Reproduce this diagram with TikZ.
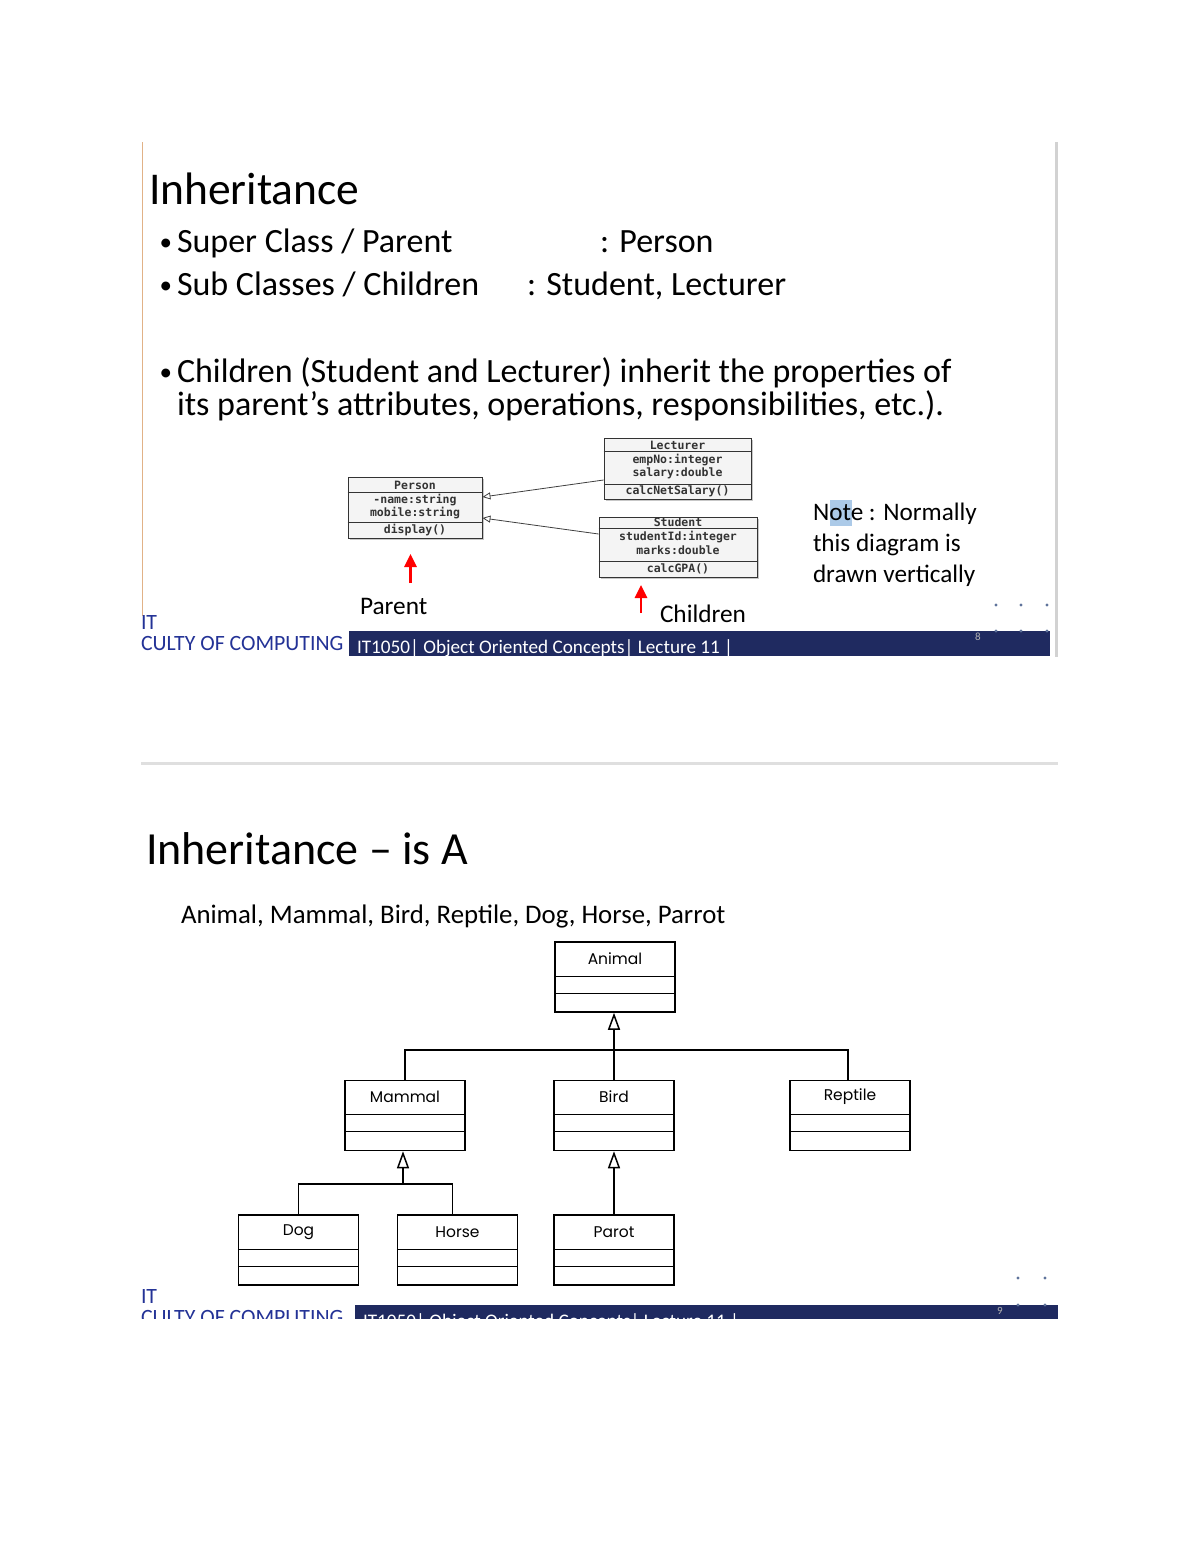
\documentclass[tikz,border=0pt]{standalone}
\usepackage{fontspec}
\setmainfont{Carlito}
\newfontfamily\umlfont{Poppins}
\newfontfamily\handfont{DejaVu Sans Mono}
\usetikzlibrary{arrows.meta,shadows}
\newcommand\fsz[1]{\fontsize{#1}{#1}\selectfont}
\definecolor{navy}{RGB}{31,42,96}
\definecolor{facblue}{RGB}{35,50,150}
\definecolor{slideorange}{RGB}{225,178,135}
\definecolor{hilite}{RGB}{172,202,232}
\definecolor{dotblue}{RGB}{95,115,155}
\tikzset{
  txt/.style={anchor=base west, inner sep=0pt, outer sep=0pt},
  bul/.style={anchor=base west, inner sep=0pt, outer sep=0pt, font=\fsz{25}},
  handbox/.style={draw=black!80, line width=0.9pt, fill=gray!9, inner sep=0pt,
     drop shadow={shadow xshift=2pt, shadow yshift=-2pt, fill=gray!55, opacity=0.8}},
  handtxt/.style={inner sep=0pt, font=\handfont\bfseries\fsz{11.5}, text=black!80},
  handgen/.style={draw=black!75, line width=0.8pt, -{Triangle[open,length=8pt,width=7pt]}},
  redarrow/.style={draw=red, line width=2.8pt, -{Triangle[length=13pt,width=12pt]}},
  umlbox/.style={draw=black, line width=1.5pt, minimum width=120pt, minimum height=70pt, inner sep=0pt},
  umlname/.style={inner sep=0pt, font=\umlfont\fsz{15.5}},
  conn/.style={draw=black, line width=1.5pt},
  gen/.style={draw=black, line width=1.5pt, -{Triangle[open,length=17pt,width=12pt,line width=1.5pt]}},
  fdot/.style={circle, fill=dotblue, inner sep=0pt, minimum size=3.2pt},
}
\begin{document}
\begin{tikzpicture}[x=1pt,y=-1pt]
\useasboundingbox (0,0) rectangle (1200,1553);
\fill[white] (0,0) rectangle (1200,1553);

% ---------------- top slide ----------------
\draw[slideorange, line width=1.5pt] (142.5,142) -- (142.5,616);
\draw[gray!35, line width=3pt] (1056.5,142) -- (1056.5,657);

\node[txt, font=\fsz{45.5}] (t1) at (149,204) {Inheritance};
\node[bul] (b1) at (159.5,250) {•};
\node[txt, font=\fsz{34}] (s1) at (177,252) {Super Class / Parent};
\node[txt, font=\fsz{34}] (s1r) at (600,252) {: Person};
\node[bul] (b2) at (159.5,293) {•};
\node[txt, font=\fsz{34}] (s2) at (177,295) {Sub Classes / Children};
\node[txt, font=\fsz{34}] (s2r) at (527,295) {: Student, Lecturer};
\node[bul] (b3) at (159.5,380) {•};
\node[txt, font=\fsz{34}] (s3) at (177,382) {Children (Student and Lecturer) inherit the properties of};
\node[txt, font=\fsz{34}] (s3b) at (177,415) {its parent’s attributes, operations, responsibilities, etc.).};

% hand-drawn class boxes
\node[handbox, minimum width=134pt, minimum height=61pt] (person) at (415,507.5) {};
\draw[black!80, line width=0.9pt] ([yshift=-15.5pt]person.north west) -- ([yshift=-15.5pt]person.north east);
\draw[black!80, line width=0.9pt] ([yshift=-46pt]person.north west) -- ([yshift=-46pt]person.north east);
\node[handtxt] (p1) at (415,485) {Person};
\node[handtxt] (p2) at (415,500) {-name:string};
\node[handtxt] (p3) at (415,513) {mobile:string};
\node[handtxt] (p4) at (415,530) {display()};

\node[handbox, minimum width=147pt, minimum height=61pt] (lect) at (677.5,468.5) {};
\draw[black!80, line width=0.9pt] ([yshift=-13.5pt]lect.north west) -- ([yshift=-13.5pt]lect.north east);
\draw[black!80, line width=0.9pt] ([yshift=-47pt]lect.north west) -- ([yshift=-47pt]lect.north east);
\node[handtxt] (l1) at (677.5,445) {Lecturer};
\node[handtxt] (l2) at (677.5,460) {empNo:integer};
\node[handtxt] (l3) at (677.5,473) {salary:double};
\node[handtxt] (l4) at (677.5,491) {calcNetSalary()};

\node[handbox, minimum width=158pt, minimum height=60pt] (stud) at (678,547) {};
\draw[black!80, line width=0.9pt] ([yshift=-12pt]stud.north west) -- ([yshift=-12pt]stud.north east);
\draw[black!80, line width=0.9pt] ([yshift=-45pt]stud.north west) -- ([yshift=-45pt]stud.north east);
\node[handtxt] (st1) at (678,522.5) {Student};
\node[handtxt] (st2) at (678,537) {studentId:integer};
\node[handtxt] (st3) at (678,550.5) {marks:double};
\node[handtxt] (st4) at (678,569) {calcGPA()};

\draw[handgen] ([yshift=-11.5pt]lect.west) -- ([yshift=10.5pt]person.east);
\draw[handgen] ([yshift=13pt]stud.west) -- ([yshift=-10.5pt]person.east);

% red arrows and labels
\coordinate (pa1) at (410.5,583);
\coordinate (pa2) at (410.5,554);
\draw[redarrow] (pa1) -- (pa2);
\coordinate (ca1) at (641,613);
\coordinate (ca2) at (641,585);
\draw[redarrow] (ca1) -- (ca2);
\node[txt, font=\fsz{25.3}] (parentlbl) at (360,614) {Parent};
\node[txt, font=\fsz{25.3}] (childlbl) at (660,622) {Children};

% note
\fill[hilite] (830,500) rectangle (852,526);
\node[txt, font=\fsz{25.2}] (n1) at (813,520) {Note : Normally};
\node[txt, font=\fsz{25.2}] (n2) at (813,551.5) {this diagram is};
\node[txt, font=\fsz{25.2}] (n3) at (813,582) {drawn vertically};

% footer
\fill[navy] (349,631) rectangle (1050,656);
\node[txt, font=\fsz{19.2}, text=white] (foot1) at (357,653) {IT1050| Object Oriented Concepts| Lecture 11 |};
\node[txt, font=\fsz{11}, text=gray!60] (pg8) at (975,640) {8};
\node[txt, font=\fsz{21.8}, text=facblue] (it1) at (141,629) {IT};
\node[txt, font=\fsz{21.8}, text=facblue] (fac1) at (141,650) {CULTY OF COMPUTING};
\foreach \xx in {996,1021,1047} {
  \node[fdot] at (\xx,605) {};
  \node[fdot] at (\xx,631) {};
}

% separator
\draw[gray!25, line width=3pt] (141,763) -- (1058,763);

% ---------------- bottom slide ----------------
\node[txt, font=\fsz{46}] (t2) at (146,864) {Inheritance – is A};
\node[txt, font=\fsz{26.8}] (sub2) at (181,923) {Animal, Mammal, Bird, Reptile, Dog, Horse, Parrot};

\node[umlbox] (animal) at (615,977) {};
\node[umlbox] (mammal) at (405,1115.5) {};
\node[umlbox] (bird) at (614,1115.5) {};
\node[umlbox] (reptile) at (850,1115.5) {};
\node[umlbox] (dog) at (298.5,1250) {};
\node[umlbox] (horse) at (457.5,1250) {};
\node[umlbox] (parot) at (614,1250) {};
\foreach \bx in {animal,mammal,bird,reptile,dog,horse,parot} {
  \draw[line width=1.3pt] ([yshift=-35pt]\bx.north west) -- ([yshift=-35pt]\bx.north east);
  \draw[line width=1.3pt] ([yshift=-52pt]\bx.north west) -- ([yshift=-52pt]\bx.north east);
}
\node[umlname] (animaln) at (615,959) {Animal};
\node[umlname] (mammaln) at (405,1097) {Mammal};
\node[umlname] (birdn) at (614,1097) {Bird};
\node[umlname] (reptilen) at (850,1097) {Reptile};
\node[umlname] (dogn) at (298.5,1232) {Dog};
\node[umlname] (horsen) at (457.5,1232) {Horse};
\node[umlname] (parotn) at (614,1232) {Parot};

\coordinate (busA) at (614,1050);
\draw[gen] (bird.north) -- (animal.south -| bird.north);
\draw[conn] (mammal.north) |- (busA) -| ([xshift=-2pt]reptile.north);
\coordinate (busM) at (403,1184);
\draw[gen] (busM) -- (busM |- mammal.south);
\draw[conn] (dog.north) |- (busM) -| ([xshift=-5pt]horse.north);
\draw[gen] (parot.north) -- (bird.south);

% bottom footer (cut off)
\begin{scope}
\clip (0,0) rectangle (1200,1318);
\fill[navy] (355,1305) rectangle (1058,1330);
\node[txt, font=\fsz{19.2}, text=white] (foot2) at (363,1327) {IT1050| Object Oriented Concepts| Lecture 11 |};
\node[txt, font=\fsz{11}, text=gray!60] (pg9) at (997,1314) {9};
\node[txt, font=\fsz{21.8}, text=facblue] (it2) at (141,1303) {IT};
\node[txt, font=\fsz{21.8}, text=facblue] (fac2) at (141,1324) {CULTY OF COMPUTING};
\foreach \xx in {1018,1045} {
  \node[fdot] at (\xx,1278) {};
  \node[fdot] at (\xx,1305) {};
}
\end{scope}
\end{tikzpicture}
\end{document}
